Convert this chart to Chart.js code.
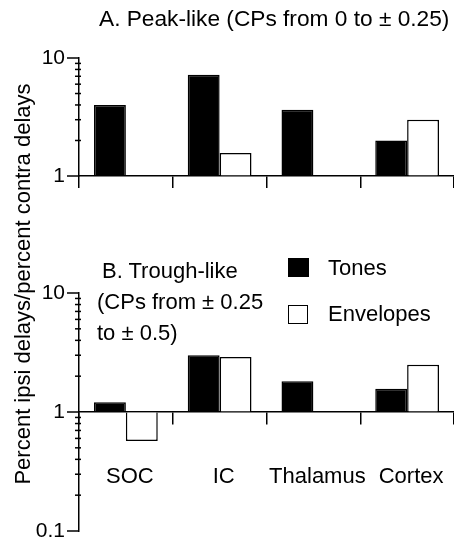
<!DOCTYPE html>
<html>
<head>
<meta charset="utf-8">
<script src="https://cdn.jsdelivr.net/npm/chart.js@4"></script>
<style>
  body { margin: 0; background: #fff; }
  #wrap { position: relative; width: 454px; height: 542px; font-family: "Liberation Sans", Arial, sans-serif; color: #000; }
  canvas { position: absolute; left: 0; }
  .txt { position: absolute; font-size: 22px; line-height: 22px; white-space: nowrap; }
  .box { position: absolute; border: 1.5px solid #000; box-sizing: border-box; }
</style>
</head>
<body>
<div id="wrap">
  <canvas id="peakChart" width="454" height="200" style="top:0"></canvas>
  <canvas id="troughChart" width="454" height="342" style="top:200px"></canvas>

  <div class="txt" style="left:99px; top:7px; font-size:22.7px">A. Peak-like (CPs from 0 to ± 0.25)</div>
  <div class="txt" style="left:102px; top:260px">B. Trough-like</div>
  <div class="txt" style="left:97px; top:291px">(CPs from ± 0.25</div>
  <div class="txt" style="left:97px; top:322px">to ± 0.5)</div>

  <div class="box" style="left:288px; top:258px; width:21px; height:19px; background:#000"></div>
  <div class="txt" style="left:328px; top:257px">Tones</div>
  <div class="box" style="left:288px; top:305px; width:20px; height:19px; background:#fff"></div>
  <div class="txt" style="left:328px; top:303px">Envelopes</div>

  <div class="txt" style="left:0; top:0; width:420px; text-align:center; transform-origin:0 0; transform:translate(12px, 494px) rotate(-90deg)">Percent ipsi delays/percent contra delays</div>
</div>

<script>
'use strict'

var categories = ["SOC", "IC", "Thalamus", "Cortex"];

// A. peak-like
var peakTones = [4.0, 7.2, 3.65, 2.0];
var peakEnvelopes = [null, 1.57, null, 3.0];

// B. trough-like
var troughTones = [1.21, 3.0, 1.81, 1.57];
var troughEnvelopes = [0.57, 2.9, null, 2.49];

var yLabels = [0.1, 1, 10];

Chart.defaults.font.family = '"Liberation Sans", Arial, sans-serif';
Chart.defaults.color = '#000';

// tick values 1,2,...,9 per decade between min and max
function decadeTicks(min, max) {
  var out = [];
  for (var e = Math.round(Math.log10(min)); e < Math.round(Math.log10(max)); e++) {
    for (var k = 1; k < 10; k++) out.push(+(k * Math.pow(10, e)).toPrecision(6));
  }
  out.push(max);
  return out;
}

// long ticks on decades, short ones in between
var logTicks = {
  id: 'logTicks',
  afterDraw: function(chart) {
    var s = chart.scales.y;
    var ctx = chart.ctx;
    ctx.save();
    ctx.strokeStyle = '#000';
    ctx.lineWidth = 1.5;
    s.ticks.forEach(function(t) {
      var py = s.getPixelForValue(t.value);
      var major = yLabels.indexOf(t.value) >= 0;
      ctx.beginPath();
      ctx.moveTo(s.right - (major ? 12 : 4), py);
      ctx.lineTo(s.right + (major ? 0 : 2), py);
      ctx.stroke();
    });
    ctx.restore();
  }
};

function datasets(tones, envelopes) {
  return [{
    label: "Tones",
    data: tones,
    base: 1,
    backgroundColor: '#000',
    borderColor: '#000',
    borderWidth: 1.5
  },
  {
    label: "Envelopes",
    data: envelopes,
    base: 1,
    backgroundColor: '#fff',
    borderColor: '#000',
    borderWidth: 1.5
  }];
}

function yAxis(min) {
  return {
    type: 'logarithmic',
    min: min,
    max: 10,
    afterBuildTicks: function(s) {
      s.ticks = decadeTicks(min, 10).map(function(v) { return { value: v }; });
    },
    afterFit: function(s) { s.width = 79; s.paddingTop = 0; s.paddingBottom = 0; },
    grid: { drawOnChartArea: false, drawTicks: false },
    border: { color: '#000', width: 1.5 },
    ticks: {
      autoSkip: false,
      padding: 14,
      font: { size: 21 },
      callback: function(v) {
        return yLabels.indexOf(v) >= 0 ? String(v) : '';
      }
    }
  };
}

var common = {
  responsive: false,
  animation: false,
  categoryPercentage: 0.68,
  barPercentage: 1.0,
  plugins: { legend: { display: false }, tooltip: { enabled: false } }
};

var peakChart = new Chart(document.getElementById("peakChart"), {
  type: 'bar',
  data: { labels: categories, datasets: datasets(peakTones, peakEnvelopes) },
  options: Object.assign({}, common, {
    layout: { padding: { top: 58, right: 0, left: 0, bottom: 0 } },
    scales: {
      x: {
        afterFit: function(s) { s.height = 24; s.paddingLeft = 0; s.paddingRight = 0; },
        grid: { offset: true, drawOnChartArea: false, tickLength: 12, color: '#000', lineWidth: 1.5 },
        border: { color: '#000', width: 1.5 },
        ticks: { display: false }
      },
      y: yAxis(1)
    }
  }),
  plugins: [logTicks]
});

var troughChart = new Chart(document.getElementById("troughChart"), {
  type: 'bar',
  data: { labels: categories, datasets: datasets(troughTones, troughEnvelopes) },
  options: Object.assign({}, common, {
    layout: { padding: { top: 93, right: 0, left: 0, bottom: 11 } },
    scales: {
      x: {
        position: { y: 1 },
        afterFit: function(s) { s.height = 0; s.paddingLeft = 0; s.paddingRight = 0; },
        grid: { offset: true, drawOnChartArea: false, tickLength: 12, color: '#000', lineWidth: 1.5 },
        border: { color: '#000', width: 1.5 },
        ticks: { padding: 40, labelOffset: 4, maxRotation: 0, minRotation: 0, autoSkip: false, font: { size: 22 } }
      },
      y: yAxis(0.1)
    }
  }),
  plugins: [logTicks]
});
</script>
</body>
</html>
